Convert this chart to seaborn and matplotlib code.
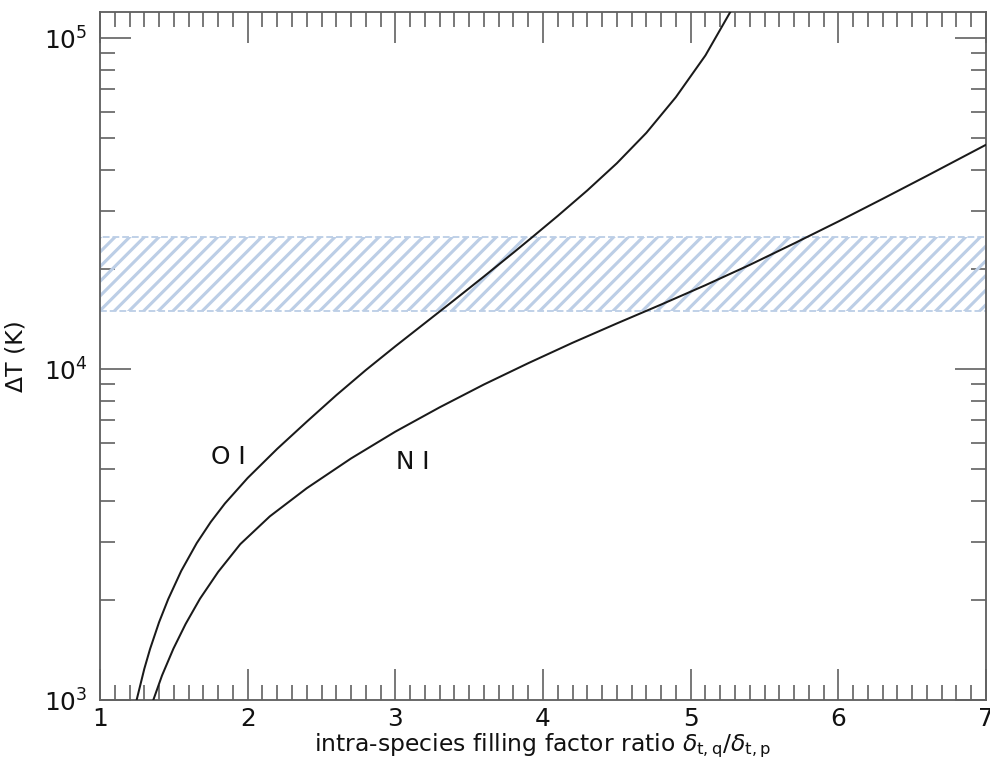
import numpy as np
import pandas as pd
import matplotlib
matplotlib.use("Agg")
import matplotlib.pyplot as plt
import seaborn as sns
from matplotlib.ticker import AutoMinorLocator, LogLocator, NullFormatter, FixedLocator

# ---- data ----
oi_ratio = [1.248, 1.30, 1.339, 1.40, 1.462, 1.55, 1.655, 1.75, 1.846, 2.0, 2.2, 2.4, 2.6, 2.8,
            3.0, 3.2, 3.4, 3.6, 3.8, 3.92, 4.1, 4.3, 4.5, 4.7, 4.9, 5.1, 5.3]
oi_dT = [1000, 1242, 1426, 1718, 2018, 2455, 2979, 3451, 3926, 4688, 5741, 6934, 8337, 9931,
         11720, 13770, 16180, 19050, 22490, 24890, 29040, 34670, 41880, 51760, 66370, 88720, 127000]

ni_ratio = [1.361, 1.42, 1.497, 1.58, 1.677, 1.80, 1.95, 2.15, 2.40, 2.70, 3.0, 3.3, 3.6, 3.9,
            4.2, 4.5, 4.8, 5.1, 5.4, 5.7, 6.0, 6.3, 6.6, 7.0]
ni_dT = [1000, 1186, 1429, 1698, 2023, 2438, 2958, 3589, 4365, 5370, 6471, 7664, 8985, 10420,
         12010, 13740, 15670, 17930, 20650, 23970, 27930, 32700, 38370, 47640]

band_low, band_high = 1.5e4, 2.5e4
species_labels = ["O I", "N I"]
label_x = [1.87, 3.12]
label_y = [5420, 5240]
x_ticks = [1, 2, 3, 4, 5, 6, 7]
xlabel = r"intra-species filling factor ratio $\delta_{\mathrm{t,q}}/\delta_{\mathrm{t,p}}$"
ylabel = "ΔT (K)"

df = pd.concat([
    pd.DataFrame({"ratio": oi_ratio, "dT": oi_dT, "species": species_labels[0]}),
    pd.DataFrame({"ratio": ni_ratio, "dT": ni_dT, "species": species_labels[1]}),
])

# ---- style ----
DPI = 132
sns.set_style("ticks")
plt.rcParams['font.family'] = ['DejaVu Sans']
plt.rcParams['mathtext.fontset'] = 'dejavusans'
plt.rcParams['hatch.linewidth'] = 1.7

fig = plt.figure(figsize=(990 / DPI, 763 / DPI), dpi=DPI)
ax = fig.add_axes([100 / 990, 1 - 700 / 763, 886 / 990, 688 / 763])

ax.axhspan(band_low, band_high, facecolor='none', edgecolor='#bccee6',
           hatch='///', linestyle='--', linewidth=1.0, zorder=1)

sns.lineplot(data=df, x="ratio", y="dT", units="species", estimator=None,
             color='#1a1a1a', linewidth=1.1, sort=False, ax=ax, legend=False, zorder=3)

for lab, lx, ly in zip(species_labels, label_x, label_y):
    ax.text(lx, ly, lab, ha='center', va='center', fontsize=13.5, color='#111111')

ax.set_yscale('log')
ax.set_xlim(1, 7)
ax.set_ylim(1e3, 1.2e5)
ax.xaxis.set_major_locator(FixedLocator(x_ticks))
ax.set_xticklabels([str(t) for t in x_ticks])
ax.xaxis.set_minor_locator(AutoMinorLocator(10))
ax.yaxis.set_major_locator(LogLocator(base=10, numticks=10))
ax.yaxis.set_minor_locator(LogLocator(base=10, subs=np.arange(2, 10), numticks=20))
ax.yaxis.set_minor_formatter(NullFormatter())

spine_col = '#606060'
for s in ax.spines.values():
    s.set_color(spine_col)
    s.set_linewidth(1.0)

ax.tick_params(which='both', direction='in', top=True, right=True,
               color=spine_col, width=0.9, labelsize=13.5, labelcolor='#111111')
ax.tick_params(which='major', length=16.9)
ax.tick_params(which='minor', length=8.2)
ax.tick_params(axis='x', which='major', pad=4)
ax.tick_params(axis='y', which='major', pad=7)

ax.set_xlabel(xlabel, fontsize=12.8, labelpad=0, color='#111111')
ax.set_ylabel(ylabel, fontsize=12.8, labelpad=9, color='#111111')

fig.savefig('out.png', dpi=DPI)
